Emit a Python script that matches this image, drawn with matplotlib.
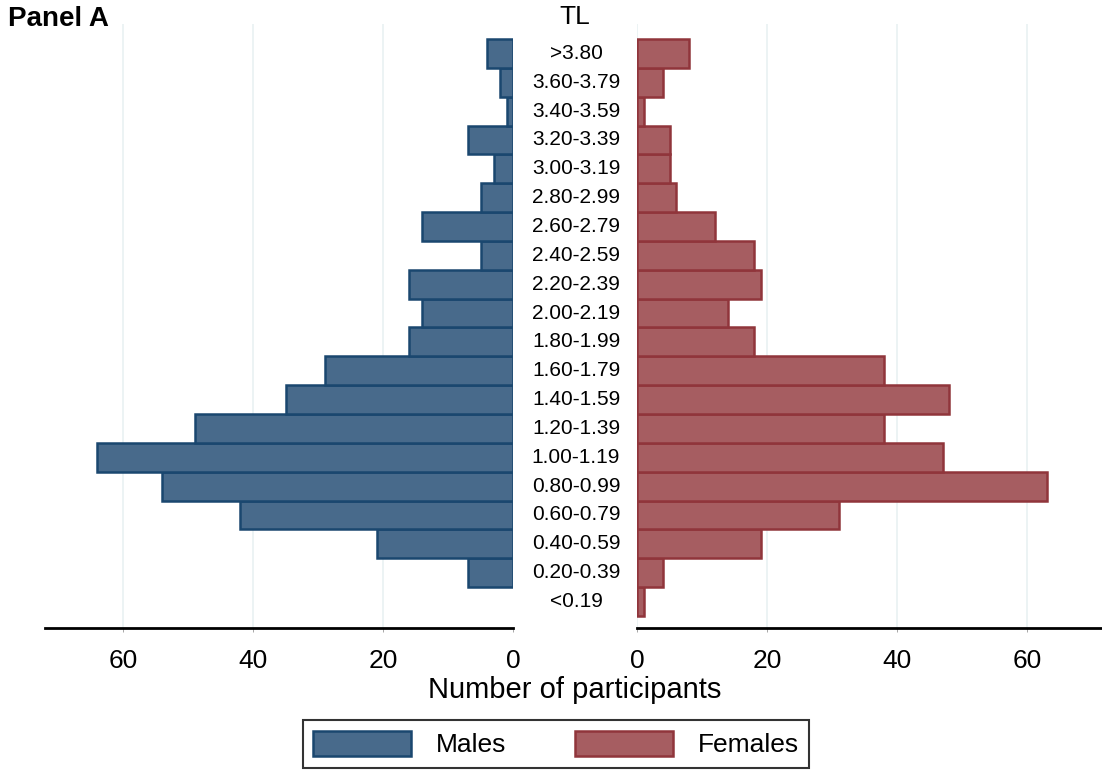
import numpy as np
import matplotlib
matplotlib.use('Agg')
import matplotlib.pyplot as plt
import matplotlib.transforms as mtransforms
from matplotlib.patches import Patch

plt.rcParams['font.family'] = ['Liberation Sans', 'DejaVu Sans']

# TL categories, bottom to top
tl_bins = ['<0.19', '0.20-0.39', '0.40-0.59', '0.60-0.79', '0.80-0.99',
           '1.00-1.19', '1.20-1.39', '1.40-1.59', '1.60-1.79', '1.80-1.99',
           '2.00-2.19', '2.20-2.39', '2.40-2.59', '2.60-2.79', '2.80-2.99',
           '3.00-3.19', '3.20-3.39', '3.40-3.59', '3.60-3.79', '>3.80']
males = [0, 7, 21, 42, 54, 64, 49, 35, 29, 16, 14, 16, 5, 14, 5, 3, 7, 1, 2, 4]
females = [1, 4, 19, 31, 63, 47, 38, 48, 38, 18, 14, 19, 18, 12, 6, 5, 5, 1, 4, 8]
xticks = [0, 20, 40, 60]

navy_edge = '#1a476f'
navy_fill = '#486a8b'
maroon_edge = '#90353b'
maroon_fill = '#a65d61'
grid_col = '#eaf2f3'

fig = plt.figure(figsize=(11.02, 7.71), dpi=100)
bottom, height = 1 - 628 / 771, (628 - 24) / 771
ax_l = fig.add_axes([45 / 1102, bottom, (513 - 45) / 1102, height])
ax_r = fig.add_axes([637 / 1102, bottom, (1102 - 637) / 1102, height], sharey=ax_l)

y = np.arange(len(tl_bins))
lw_m = [1.8 if v > 0 else 0 for v in males]
lw_f = [1.8 if v > 0 else 0 for v in females]
ax_l.barh(y, males, height=1.0, color=navy_fill, edgecolor=navy_edge, linewidth=lw_m, zorder=3)
ax_r.barh(y, females, height=1.0, color=maroon_fill, edgecolor=maroon_edge, linewidth=lw_f, zorder=3)

ax_l.set_xlim(72, 0)
ax_r.set_xlim(0, 71.5)
ax_l.set_ylim(-0.92, 20.02)

for ax in (ax_l, ax_r):
    for s in ['top', 'left', 'right']:
        ax.spines[s].set_visible(False)
    ax.spines['bottom'].set_linewidth(2)
    ax.set_xticks(xticks)
    ax.tick_params(axis='x', length=3, width=0.6, color='#999999', labelsize=19, pad=12)
    ax.set_yticks([])
    for t in xticks:
        if t == 0 and ax is ax_l:
            continue
        ax.axvline(t, color=grid_col, lw=1.3, zorder=0)

# category labels in the gap
trans = mtransforms.blended_transform_factory(fig.transFigure, ax_l.transData)
for yi, lab in zip(y, tl_bins):
    fig.text(576 / 1102, yi, lab, transform=trans, ha='center', va='center', fontsize=15)

fig.text(575 / 1102, 1 - 17 / 771, 'TL', ha='center', va='center', fontsize=19)
fig.text(8 / 1102, 1 - 19 / 771, 'Panel A', ha='left', va='center', fontsize=20, fontweight='bold')
fig.text(575 / 1102, 1 - 690 / 771, 'Number of participants', ha='center', va='center', fontsize=21)

handles = [Patch(facecolor=navy_fill, edgecolor=navy_edge, linewidth=1.8, label='Males'),
           Patch(facecolor=maroon_fill, edgecolor=maroon_edge, linewidth=1.8, label='Females')]
leg = fig.legend(handles=handles, loc='center', bbox_to_anchor=(556 / 1102, 1 - 744 / 771),
                 ncol=2, fontsize=19, frameon=True, fancybox=False, edgecolor='black',
                 handlelength=3.7, handleheight=1.1, columnspacing=2.6, handletextpad=0.95,
                 borderpad=0.4)
leg.get_frame().set_linewidth(1.5)

fig.savefig('out.png', dpi=100)
